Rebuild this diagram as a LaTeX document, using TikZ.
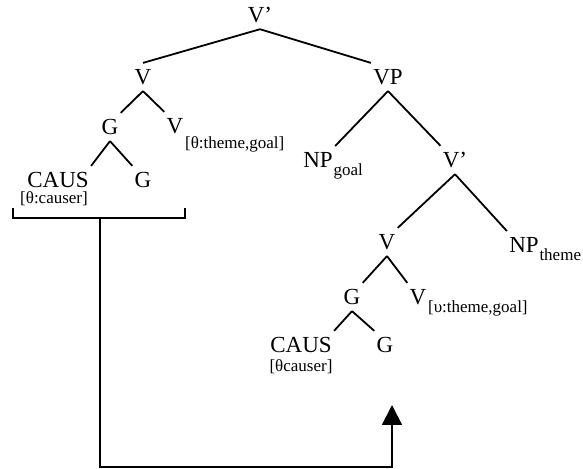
\documentclass[tikz,border=0pt]{standalone}
\usepackage{fontspec}
\setmainfont{Liberation Serif}
\usetikzlibrary{arrows.meta,positioning}
\tikzset{
    rotulo/.style={
        font=\fontsize{11.5}{13}\selectfont,
        inner xsep=1pt,
        inner ysep=3pt
    },
    indice/.style={font=\fontsize{8.5}{10}\selectfont, inner sep=0pt},
    ramo/.style={line width=0.9pt},
    colchete/.style={line width=0.7pt},
    movimento/.style={line width=0.9pt, -{Triangle[width=10pt,length=10pt]}}
}

\begin{document}
\begin{tikzpicture}[
        x=0.5pt, y=-0.5pt,
        on grid
    ]
        \useasboundingbox (0,0) rectangle (583,469);

        \node[rotulo] (topo) at (260,15) {V'};
        \node[rotulo, below left=31pt and 58.5pt of topo] (v) {V};
        \node[rotulo, below right=31pt and 64pt of topo] (vp) {VP};

        \node[rotulo, below left=25pt and 16.5pt of v] (g) {G};
        \node[rotulo, below right=24.5pt and 16pt of v] (vtema) {V};
        \node[indice, anchor=base west] (vtemaind) at ([xshift=-0.5pt,yshift=-7.5pt]vtema.base east) {[θ:theme,goal]};
        \node[rotulo, below left=26.5pt and 26pt of g] (caus) {CAUS};
        \node[indice, anchor=north] (causind) at ([xshift=-2pt,yshift=1.5pt]caus.south) {[θ:causer]};
        \node[rotulo, below right=26.5pt and 16.5pt of g] (gg) {G};

        \node[rotulo, below left=41.5pt and 35pt of vp] (npg) {NP};
        \node[indice, anchor=base west] (npgind) at ([xshift=-1pt,yshift=-4pt]npg.base east) {goal};
        \node[rotulo, below right=41.5pt and 33.5pt of vp] (vbarra) {V'};

        \node[rotulo, below left=41pt and 34pt of vbarra] (vv) {V};
        \node[rotulo, below right=42.5pt and 34.5pt of vbarra] (npt) {NP};
        \node[indice, anchor=base west] (nptind) at ([xshift=-1pt,yshift=-4pt]npt.base east) {theme};

        \node[rotulo, below left=27.5pt and 17.5pt of vv] (g3) {G};
        \node[rotulo, below right=27.5pt and 15.5pt of vv] (vtema2) {V};
        \node[indice, anchor=base west] (vtema2ind) at ([xshift=-0.5pt,yshift=-4pt]vtema2.base east) {[υ:theme,goal]};
        \node[rotulo, below left=24pt and 25.5pt of g3] (caus2) {CAUS};
        \node[indice, anchor=north] (caus2ind) at (caus2.south) {[θcauser]};
        \node[rotulo, below right=24pt and 16.5pt of g3] (g4) {G};

        \draw[ramo] (topo.south) -- (v.north);
        \draw[ramo] (topo.south) -- (vp.north west);
        \draw[ramo] (v.south) -- (g.north east);
        \draw[ramo] (v.south) -- (vtema.north west);
        \draw[ramo] (g.south) -- (caus.north east);
        \draw[ramo] (g.south) -- (gg.north west);
        \draw[ramo] (vp.south) -- (npg.north east);
        \draw[ramo] (vp.south) -- (vbarra.north west);
        \draw[ramo] (vbarra.south) -- (vv.north east);
        \draw[ramo] (vbarra.south) -- (npt.north west);
        \draw[ramo] (vv.south) -- (g3.north east);
        \draw[ramo] (vv.south) -- (vtema2.north west);
        \draw[ramo] (g3.south) -- (caus2.north east);
        \draw[ramo] (g3.south) -- (g4.north west);

        % colchete sob CAUS e G, e a seta do movimento
        \coordinate (colesq) at (13,208);
        \coordinate (coldir) at (185,208);
        \coordinate (haste) at (100,218);
        \coordinate (alvo) at (392,405);
        \draw[colchete] (colesq) |- (haste) -| (coldir);
        \draw[movimento] (haste) -- ++(0,249) -| (alvo);
    \end{tikzpicture}
\end{document}
